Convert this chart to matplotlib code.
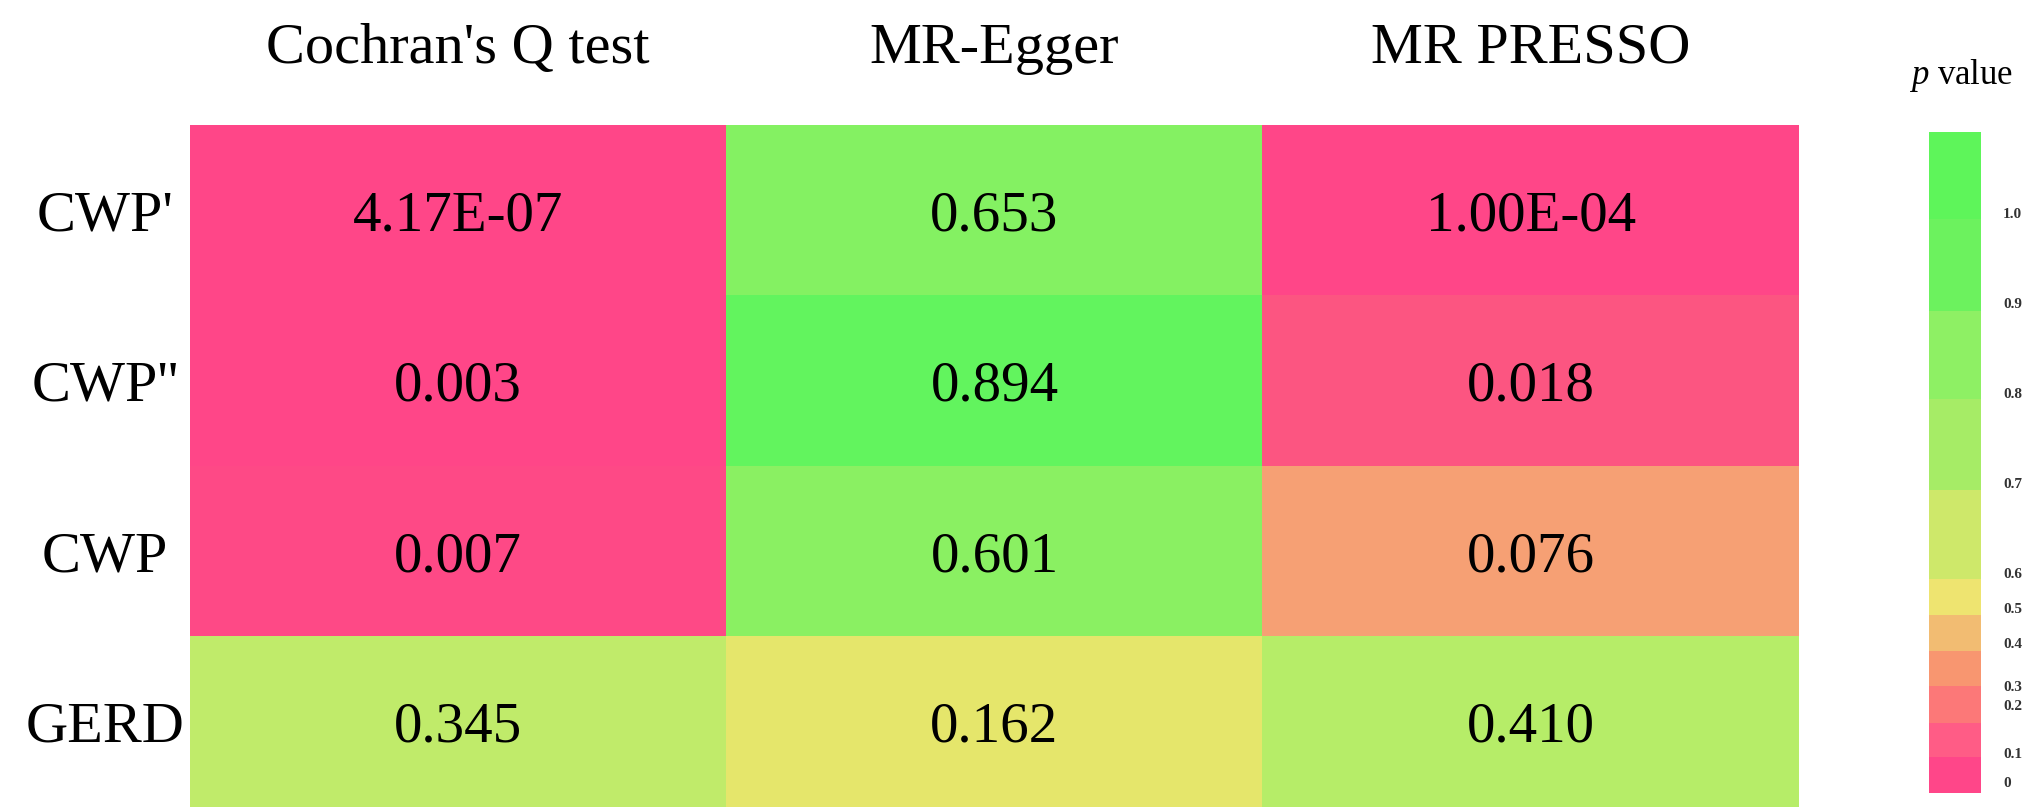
import numpy as np
import matplotlib
matplotlib.use("Agg")
import matplotlib.pyplot as plt
from matplotlib.colors import LinearSegmentedColormap, ListedColormap, BoundaryNorm
from matplotlib.colorbar import ColorbarBase

plt.rcParams['font.family'] = ['Liberation Serif', 'DejaVu Serif']
plt.rcParams['mathtext.fontset'] = 'custom'
plt.rcParams['mathtext.it'] = 'Liberation Serif:italic'
plt.rcParams['mathtext.rm'] = 'Liberation Serif'

# data
rows = ["CWP'", "CWP''", "CWP", "GERD"]
tests = ["Cochran's Q test", "MR-Egger", "MR PRESSO"]
p_cochran = [4.17e-07, 0.003, 0.007, 0.345]
p_egger = [0.653, 0.894, 0.601, 0.162]
p_presso = [1.00e-04, 0.018, 0.076, 0.410]
cell_text = [["4.17E-07", "0.653", "1.00E-04"],
             ["0.003", "0.894", "0.018"],
             ["0.007", "0.601", "0.076"],
             ["0.345", "0.162", "0.410"]]

# colour scale used for the cells
cmap_nodes = [(0.0, "#FF4688"), (0.02, "#FC5A80"), (0.08, "#F6A873"),
              (0.16, "#E6E66C"), (0.35, "#C0EC6A"), (0.45, "#B0EE68"),
              (0.6, "#8AF062"), (0.7, "#80F262"), (0.9, "#62F55E"),
              (1.0, "#5CF65C")]
cmap = LinearSegmentedColormap.from_list("pval", cmap_nodes)

# legend bar as printed (stepped, uneven blocks)
cb_colors = ["#FF4689", "#FF5C86", "#FC7878", "#F89670", "#F2BC72", "#EEE470",
             "#CEE86A", "#A6EC66", "#8EF064", "#6CF25E", "#5EF55A"]
cb_edges = [0, 36, 70, 107, 142, 178, 214, 303, 394, 482, 574, 661]
cb_tick_pos = [11, 40, 88, 107, 150, 185, 220, 310, 400, 490, 580]
cb_tick_labels = ["0", "0.1", "0.2", "0.3", "0.4", "0.5", "0.6", "0.7", "0.8", "0.9", "1.0"]

W, H = 2029, 807
fig = plt.figure(figsize=(W / 100, H / 100), dpi=100)

data = np.column_stack([p_cochran, p_egger, p_presso])
ax = fig.add_axes([190 / W, 0, 1609 / W, 682 / H])
ax.imshow(data, cmap=cmap, vmin=0, vmax=1, aspect='auto', interpolation='nearest')
for i in range(len(rows)):
    for j in range(len(tests)):
        ax.text(j, i, cell_text[i][j], ha='center', va='center_baseline',
                fontsize=41, color='black')

ax.xaxis.tick_top()
ax.set_xticks(range(len(tests)))
ax.set_xticklabels(tests, fontsize=42, va='center')
ax.set_yticks(range(len(rows)))
ax.set_yticklabels(rows, fontsize=42, ha='center', va='center_baseline')
ax.tick_params(axis='x', length=0, pad=55)
ax.tick_params(axis='y', length=0, pad=61)
for s in ax.spines.values():
    s.set_visible(False)

cax = fig.add_axes([1929 / W, 14 / H, 52 / W, 661 / H])
cb = ColorbarBase(cax, cmap=ListedColormap(cb_colors),
                  norm=BoundaryNorm(cb_edges, len(cb_colors)),
                  boundaries=cb_edges, spacing='proportional',
                  ticks=cb_tick_pos)
cb.set_ticklabels(cb_tick_labels)
cb.outline.set_visible(False)
cax.minorticks_off()
cax.tick_params(which='both', length=0, pad=16, labelsize=11, labelcolor='#333333')
for t in cax.get_yticklabels():
    t.set_fontweight('bold')

fig.text(1961 / W, 1 - 76 / H, "$\\mathit{p}$ value", ha='center', va='center', fontsize=25)

fig.savefig("out.png", dpi=100)
